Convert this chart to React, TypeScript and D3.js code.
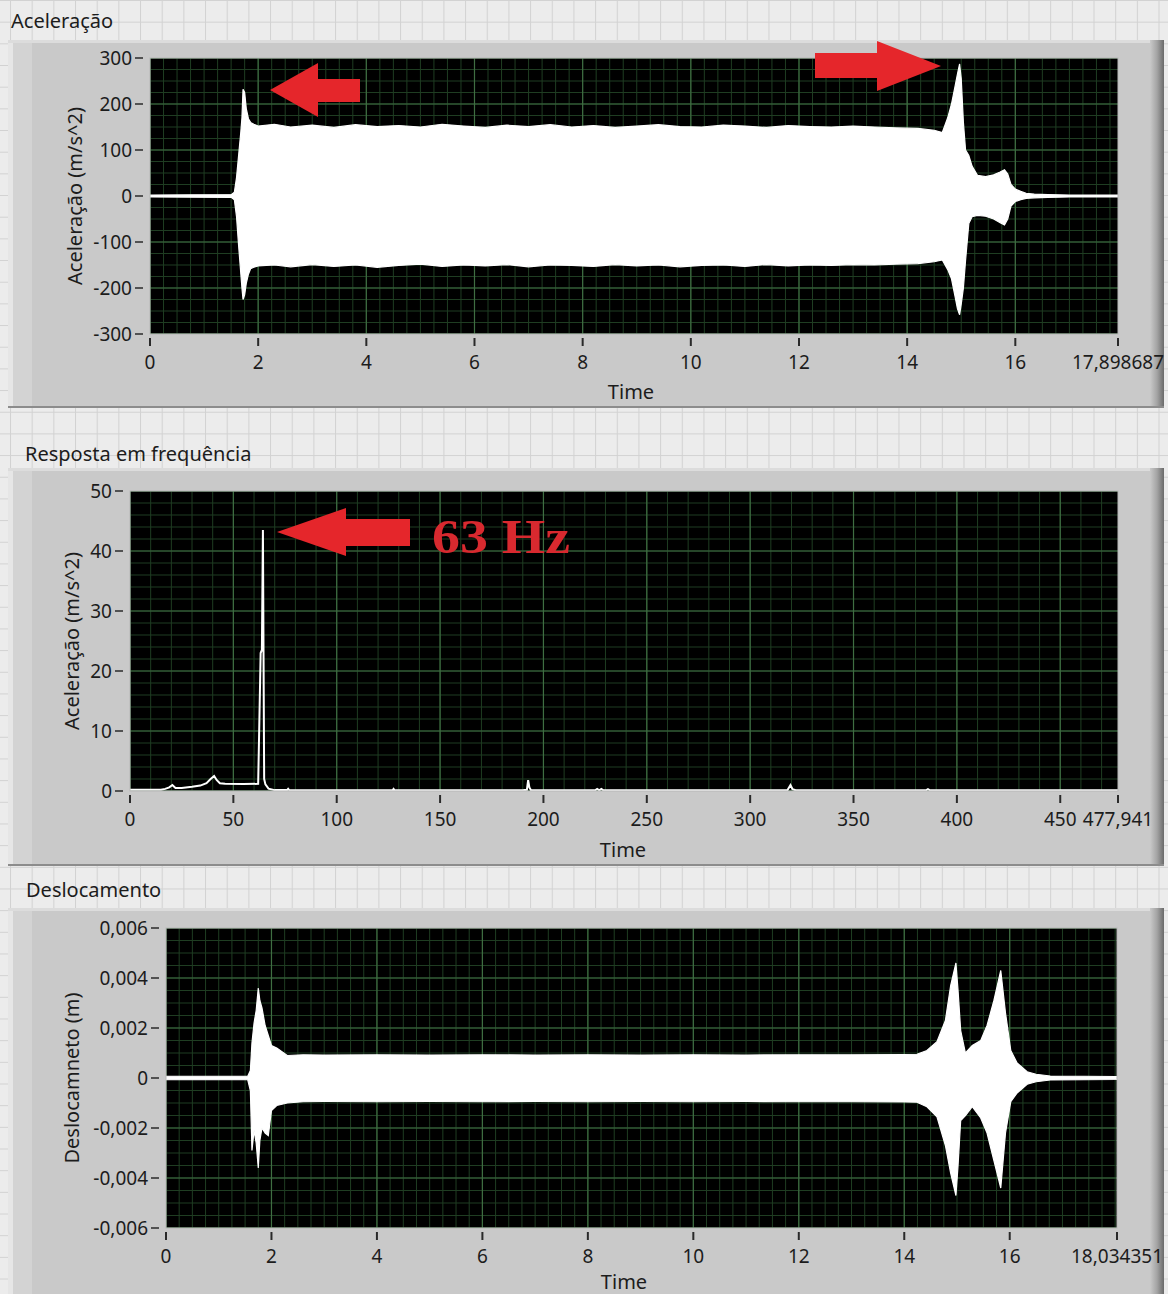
import React from 'react';
import * as d3 from 'd3';

// ---------- Panel 1: Aceleração (envelope of the time signal, m/s^2) ----------
const accTime = [
  0, 1.50, 1.56, 1.60, 1.64, 1.68, 1.70, 1.72, 1.75, 1.78,
  1.82, 1.86, 1.92, 2.0, 2.3, 2.6, 3.0, 3.4, 3.8, 4.2,
  4.6, 5.0, 5.4, 5.8, 6.2, 6.6, 7.0, 7.4, 7.8, 8.2,
  8.6, 9.0, 9.4, 9.8, 10.2, 10.6, 11.0, 11.4, 11.8, 12.2,
  12.6, 13.0, 13.4, 13.8, 14.2, 14.5, 14.65, 14.75, 14.82, 14.88,
  14.93, 14.97, 15.0, 15.04, 15.08, 15.14, 15.2, 15.3, 15.45, 15.6,
  15.72, 15.8, 15.86, 15.92, 16.0, 16.1, 16.2, 16.35, 16.6, 17.0,
  17.9,
];
const accUpper = [
  2, 3, 8, 40, 90, 140, 170, 232, 225, 190,
  168, 160, 156, 152, 156, 150, 154, 149, 155, 151,
  153, 150, 156, 152, 149, 154, 151, 155, 150, 153,
  149, 152, 155, 151, 150, 154, 152, 149, 153, 151,
  150, 152, 150, 148, 147, 143, 138, 170, 200, 235,
  265, 287, 255, 160, 100, 88, 65, 45, 42, 46,
  52, 57, 48, 25, 15, 10, 6, 4, 3, 2,
  2,
];
const accLower = [
  -2, -3, -8, -45, -110, -170, -200, -225, -215, -190,
  -170, -158, -155, -152, -150, -154, -149, -153, -150, -155,
  -151, -148, -153, -150, -152, -149, -154, -150, -151, -153,
  -149, -152, -150, -154, -151, -150, -153, -149, -152, -150,
  -151, -149, -150, -148, -147, -143, -139, -160, -180, -215,
  -245, -258, -235, -200, -140, -60, -45, -42, -44, -50,
  -58, -63, -50, -22, -12, -8, -5, -4, -3, -2,
  -2,
];
const accXTicks = [0, 2, 4, 6, 8, 10, 12, 14, 16];
const accXEnd = 17.898687;
const accXEndLabel = '17,898687';
const accYTicks = [-300, -200, -100, 0, 100, 200, 300];

// ---------- Panel 2: Resposta em frequência ----------
const freqHz = [
  0, 15, 17, 19, 20.5, 22, 25, 30, 34, 37,
  39, 40.7, 42, 43.5, 46, 55, 62, 63.2, 63.8, 64.3,
  64.9, 65.5, 67, 70, 76, 76.5, 77, 127, 127.5, 128,
  190, 192, 192.6, 193.2, 194, 225, 226, 227, 228, 229,
  318, 319.5, 320.5, 322, 385, 386, 387, 478,
];
const freqAmp = [
  0.2, 0.2, 0.35, 0.6, 1.0, 0.5, 0.5, 0.7, 0.9, 1.3,
  2.0, 2.5, 1.8, 1.3, 1.2, 1.15, 1.2, 23, 23.5, 43.5,
  2.0, 1.1, 0.4, 0.15, 0.15, 0.35, 0.15, 0.12, 0.35, 0.12,
  0.12, 0.2, 1.8, 0.6, 0.12, 0.12, 0.35, 0.12, 0.35, 0.12,
  0.12, 1.0, 0.3, 0.12, 0.12, 0.3, 0.12, 0.12,
];
const freqXTicks = [0, 50, 100, 150, 200, 250, 300, 350, 400, 450];
const freqXEnd = 477.941;
const freqXEndLabel = '477,941';
const freqYTicks = [0, 10, 20, 30, 40, 50];

// ---------- Panel 3: Deslocamento (envelope, m) ----------
const dispTime = [
  0, 1.55, 1.60, 1.63, 1.67, 1.71, 1.75, 1.78, 1.82, 1.88,
  1.94, 2.0, 2.1, 2.3, 2.6, 3.0, 4.0, 5.0, 6.0, 7.0,
  8.0, 9.0, 10.0, 11.0, 12.0, 13.0, 14.0, 14.24, 14.43, 14.62,
  14.78, 14.88, 14.98, 15.02, 15.07, 15.16, 15.29, 15.45, 15.57, 15.70,
  15.83, 15.92, 16.02, 16.14, 16.33, 16.5, 16.77, 18.03,
];
const dispUpper = [
  0.00007, 0.00007, 0.0003, 0.0014, 0.0022, 0.0027, 0.0036, 0.0031, 0.0028, 0.0021,
  0.0017, 0.0013, 0.0012, 0.0009, 0.00093, 0.00092, 0.00093, 0.00092, 0.00093, 0.00092,
  0.00093, 0.00092, 0.00093, 0.00092, 0.00093, 0.00093, 0.00094, 0.00095, 0.0011, 0.00145,
  0.0023, 0.0037, 0.0046, 0.0035, 0.0019, 0.001, 0.0013, 0.0015, 0.0021, 0.0031,
  0.0043, 0.0026, 0.0011, 0.0006, 0.00025, 0.00015, 0.00008, 0.00006,
];
const dispLower = [
  -0.00007, -0.00007, -0.0005, -0.0029, -0.0021, -0.0026, -0.0036, -0.0025, -0.0020, -0.0022,
  -0.0023, -0.0013, -0.0011, -0.001, -0.00095, -0.00094, -0.00095, -0.00094, -0.00095, -0.00094,
  -0.00095, -0.00094, -0.00095, -0.00094, -0.00095, -0.00095, -0.00096, -0.00097, -0.00115, -0.00155,
  -0.0027, -0.0038, -0.0047, -0.0035, -0.0017, -0.0015, -0.00115, -0.0016, -0.0022, -0.0033,
  -0.0044, -0.0022, -0.00095, -0.0006, -0.00025, -0.00015, -0.00008, -0.00006,
];
const dispXTicks = [0, 2, 4, 6, 8, 10, 12, 14, 16];
const dispXEnd = 18.034351;
const dispXEndLabel = '18,034351';
const dispYTicks = [-0.006, -0.004, -0.002, 0, 0.002, 0.004, 0.006];

const W = 1168;
const H = 1294;
const FONT = "'Noto Sans', 'DejaVu Sans', sans-serif";
const TXT = '#1c1c1c';
const fmt = (v: number) => String(v).replace('.', ',');

type Panel = {
  key: string;
  title: string;
  titleX: number;
  titleY: number;
  frameTop: number;
  frameBottom: number;
  left: number;
  right: number;
  top: number;
  bottom: number;
  xTicks: number[];
  xEnd: number;
  xEndLabel: string;
  yTicks: number[];
  xMinor: number;
  yMinor: number;
  yLabel: string;
  yLabelX: number;
  timeY: number;
  timeX: number;
};

const panels: Panel[] = [
  {
    key: 'acc', title: 'Aceleração', titleX: 11, titleY: 28,
    frameTop: 40, frameBottom: 408,
    left: 150, right: 1118, top: 58, bottom: 334,
    xTicks: accXTicks, xEnd: accXEnd, xEndLabel: accXEndLabel, yTicks: accYTicks,
    xMinor: 0.25, yMinor: 25, yLabel: 'Aceleração (m/s^2)', yLabelX: 75, timeY: 399, timeX: 631,
  },
  {
    key: 'freq', title: 'Resposta em frequência', titleX: 25, titleY: 461,
    frameTop: 468, frameBottom: 866,
    left: 130, right: 1118, top: 491, bottom: 791,
    xTicks: freqXTicks, xEnd: freqXEnd, xEndLabel: freqXEndLabel, yTicks: freqYTicks,
    xMinor: 10, yMinor: 2, yLabel: 'Aceleração (m/s^2)', yLabelX: 72, timeY: 857, timeX: 623,
  },
  {
    key: 'disp', title: 'Deslocamento', titleX: 26, titleY: 897,
    frameTop: 908, frameBottom: 1300,
    left: 166, right: 1117, top: 928, bottom: 1228,
    xTicks: dispXTicks, xEnd: dispXEnd, xEndLabel: dispXEndLabel, yTicks: dispYTicks,
    xMinor: 0.25, yMinor: 0.0005, yLabel: 'Deslocamneto (m)', yLabelX: 72, timeY: 1289, timeX: 624,
  },
];

function range(a: number, b: number, step: number) {
  const n = Math.round((b - a) / step);
  return d3.range(0, n + 1).map((i) => a + i * step).filter((v) => v <= b + 1e-12);
}

function PanelView({ p }: { p: Panel }) {
  const yMin = p.yTicks[0];
  const yMax = p.yTicks[p.yTicks.length - 1];
  const x = d3.scaleLinear().domain([0, p.xEnd]).range([p.left, p.right]);
  const y = d3.scaleLinear().domain([yMin, yMax]).range([p.bottom, p.top]);

  let dataEl: React.ReactNode = null;
  if (p.key === 'acc' || p.key === 'disp') {
    const t = p.key === 'acc' ? accTime : dispTime;
    const hi = p.key === 'acc' ? accUpper : dispUpper;
    const lo = p.key === 'acc' ? accLower : dispLower;
    const area = d3
      .area<number>()
      .x((_, i) => x(t[i]))
      .y0((_, i) => y(lo[i]))
      .y1((_, i) => y(hi[i]));
    dataEl = <path d={area(t) || ''} fill="#ffffff" stroke="#ffffff" strokeWidth={1.2} />;
  } else {
    const line = d3
      .line<number>()
      .x((_, i) => x(freqHz[i]))
      .y((_, i) => y(freqAmp[i]));
    dataEl = <path d={line(freqHz) || ''} fill="none" stroke="#ffffff" strokeWidth={2} />;
  }

  const xMinorVals = range(0, p.xEnd, p.xMinor);
  const yMinorVals = range(yMin, yMax, p.yMinor);
  const fx = p.frameTop;
  const fh = p.frameBottom - p.frameTop;

  return (
    <g>
      {/* frame */}
      <rect x={8} y={fx} width={1156} height={fh} fill="#c9c9c9" />
      <rect x={8} y={fx} width={5} height={fh} fill="#e6e6e6" />
      <rect x={13} y={fx} width={19} height={fh} fill="#d3d3d3" />
      <rect x={8} y={fx} width={1156} height={3} fill="#dcdcdc" />
      <rect x={1150} y={fx} width={14} height={fh} fill="url(#rightShade)" />
      <rect x={8} y={p.frameBottom - 2} width={1156} height={2} fill="#8c8c8c" />

      {/* title */}
      <text x={p.titleX} y={p.titleY} fontFamily={FONT} fontSize={20} fill={TXT}>{p.title}</text>

      {/* plot area */}
      <clipPath id={`clip-${p.key}`}>
        <rect x={p.left} y={p.top} width={p.right - p.left} height={p.bottom - p.top} />
      </clipPath>
      <rect x={p.left} y={p.top} width={p.right - p.left} height={p.bottom - p.top} fill="#000" />
      <g clipPath={`url(#clip-${p.key})`}>
        {xMinorVals.map((v, i) => (
          <line key={`xm${i}`} x1={x(v)} x2={x(v)} y1={p.top} y2={p.bottom} stroke="#1f3d22" strokeWidth={1} />
        ))}
        {yMinorVals.map((v, i) => (
          <line key={`ym${i}`} x1={p.left} x2={p.right} y1={y(v)} y2={y(v)} stroke="#1f3d22" strokeWidth={1} />
        ))}
        {p.xTicks.map((v, i) => (
          <line key={`xM${i}`} x1={x(v)} x2={x(v)} y1={p.top} y2={p.bottom} stroke="#3f6e42" strokeWidth={1.2} />
        ))}
        {p.yTicks.map((v, i) => (
          <line key={`yM${i}`} x1={p.left} x2={p.right} y1={y(v)} y2={y(v)} stroke="#3f6e42" strokeWidth={1.2} />
        ))}
        {dataEl}
      </g>
      <rect x={p.left} y={p.top} width={p.right - p.left} height={p.bottom - p.top} fill="none" stroke="#b8b8b8" strokeWidth={1} />

      {/* x axis ticks */}
      {[...p.xTicks, p.xEnd].map((v, i) => (
        <line key={`xt${i}`} x1={x(v)} x2={x(v)} y1={p.bottom + 4} y2={p.bottom + 12} stroke="#2a2a2a" strokeWidth={2} />
      ))}
      {p.xTicks.map((v, i) => (
        <text key={`xl${i}`} x={x(v)} y={p.bottom + 35} textAnchor="middle" fontFamily={FONT} fontSize={19} fill={TXT}>
          {fmt(v)}
        </text>
      ))}
      <text x={x(p.xEnd)} y={p.bottom + 35} textAnchor="middle" fontFamily={FONT} fontSize={19} fill={TXT}>
        {p.xEndLabel}
      </text>
      <text x={p.timeX} y={p.timeY} textAnchor="middle" fontFamily={FONT} fontSize={20} fill={TXT}>Time</text>

      {/* y axis ticks */}
      {p.yTicks.map((v, i) => (
        <g key={`yt${i}`}>
          <line x1={p.left - 15} x2={p.left - 7} y1={y(v)} y2={y(v)} stroke="#2a2a2a" strokeWidth={1.5} />
          <text x={p.left - 18} y={y(v)} dy="0.35em" textAnchor="end" fontFamily={FONT} fontSize={19} fill={TXT}>
            {fmt(v)}
          </text>
        </g>
      ))}
      <text
        transform={`translate(${p.yLabelX},${(p.top + p.bottom) / 2}) rotate(-90)`}
        dy="0.35em"
        textAnchor="middle"
        fontFamily={FONT}
        fontSize={20}
        fill={TXT}
      >
        {p.yLabel}
      </text>
    </g>
  );
}

function arrowLeft(tipX: number, tipY: number, headBack: number, headHalf: number, bodyEnd: number, bodyTop: number, bodyBottom: number) {
  return `M${tipX},${tipY} L${headBack},${tipY - headHalf} L${headBack},${bodyTop} L${bodyEnd},${bodyTop} L${bodyEnd},${bodyBottom} L${headBack},${bodyBottom} L${headBack},${tipY + headHalf} Z`;
}

export default function App() {
  return (
    <svg
      width={W}
      height={H}
      viewBox={`0 0 ${W} ${H}`}
      style={{ position: 'absolute', left: 0, top: 0, display: 'block' }}
    >
      <defs>
        <pattern id="pageGrid" width={21.67} height={21.67} patternUnits="userSpaceOnUse" x={10} y={0}>
          <rect width={21.67} height={21.67} fill="#ececec" />
          <line x1={0.5} x2={0.5} y1={0} y2={21.67} stroke="#d2d2d2" strokeWidth={1} />
          <line x1={0} x2={21.67} y1={0.5} y2={0.5} stroke="#d2d2d2" strokeWidth={1} />
        </pattern>
        <linearGradient id="rightShade" x1="0" x2="1" y1="0" y2="0">
          <stop offset="0" stopColor="#c9c9c9" />
          <stop offset="0.5" stopColor="#a4a4a4" />
          <stop offset="1" stopColor="#6a6a6a" />
        </linearGradient>
      </defs>
      <rect x={0} y={0} width={W} height={H} fill="url(#pageGrid)" />
      {panels.map((p) => (
        <PanelView key={p.key} p={p} />
      ))}

      {/* red annotation arrows (same shape function, arrowLeft with reversed coordinates gives a right arrow) */}
      <path d={arrowLeft(270, 90, 318, 27, 360, 79, 102)} fill="#e5262b" />
      <path d={arrowLeft(941, 66, 877, 25, 815, 53, 78)} fill="#e5262b" />
      <path d={arrowLeft(277, 532, 346, 24, 410, 519, 546)} fill="#e5262b" />
      <text
        x={432}
        y={553}
        fontFamily="'Liberation Serif', 'DejaVu Serif', serif"
        fontWeight="bold"
        fontSize={49}
        fill="#d8292f"
        textLength={138}
        lengthAdjust="spacingAndGlyphs"
      >
        63 Hz
      </text>
    </svg>
  );
}
